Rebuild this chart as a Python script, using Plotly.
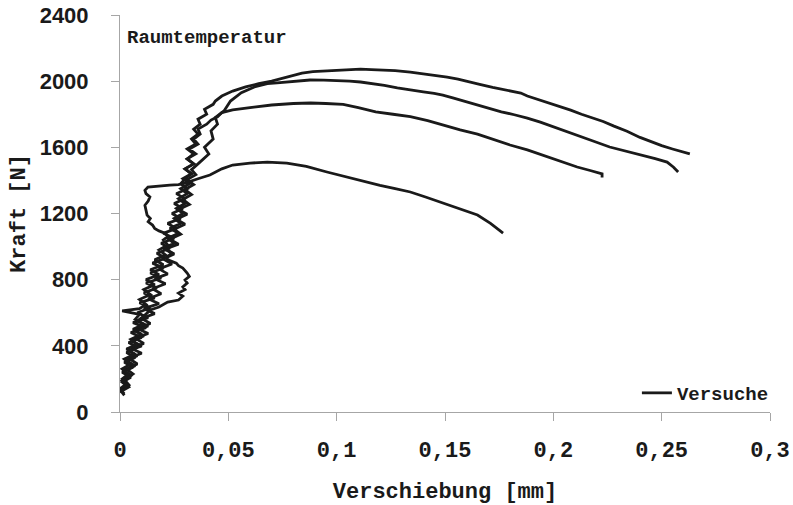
import plotly.graph_objects as go

# ---- data (displacement in mm, force in N) ----
x_ticks = [0, 0.05, 0.1, 0.15, 0.2, 0.25, 0.3]
x_tick_labels = ["0", "0,05", "0,1", "0,15", "0,2", "0,25", "0,3"]
y_ticks = [0, 400, 800, 1200, 1600, 2000, 2400]

x_a = [0.000, 0.004, 0.001, 0.005, 0.001, 0.006, 0.002, 0.007, 0.003, 0.008,
       0.004, 0.010, 0.005, 0.012, 0.006, 0.013, 0.008, 0.014, 0.009, 0.016,
       0.011, 0.017, 0.012, 0.019, 0.014, 0.020, 0.015, 0.021, 0.017, 0.023,
       0.019, 0.025, 0.020, 0.026, 0.022, 0.028, 0.024, 0.029, 0.025, 0.030,
       0.026, 0.031, 0.028,
       0.030, 0.033, 0.030, 0.034, 0.031, 0.034, 0.031, 0.035, 0.033, 0.036,
       0.034, 0.037, 0.036, 0.040, 0.039, 0.043, 0.044, 0.047, 0.052, 0.058,
       0.064, 0.070,
       0.078, 0.084, 0.089, 0.094, 0.100, 0.106, 0.111, 0.116, 0.120, 0.127,
       0.134, 0.140, 0.146, 0.151, 0.156, 0.160, 0.166, 0.172, 0.178, 0.185,
       0.188, 0.194, 0.199, 0.203, 0.208, 0.213, 0.218, 0.223, 0.228, 0.234,
       0.240, 0.246, 0.250, 0.255, 0.259, 0.263]
f_a = [120, 150, 180, 210, 240, 270, 300, 330, 360, 390,
       420, 450, 480, 510, 540, 570, 600, 630, 660, 690,
       720, 750, 780, 810, 840, 870, 900, 930, 960, 990,
       1020, 1050, 1080, 1110, 1140, 1170, 1200, 1230, 1260, 1290,
       1320, 1350, 1380,
       1410, 1440, 1470, 1500, 1530, 1560, 1590, 1620, 1650, 1680,
       1710, 1740, 1770, 1800, 1830, 1860, 1880, 1910, 1940, 1965,
       1985, 2000,
       2030, 2048, 2058, 2062, 2068, 2070, 2073, 2070, 2068, 2064,
       2055, 2045, 2036, 2025, 2012, 1998, 1980, 1962, 1945, 1928,
       1910, 1885, 1862, 1846, 1825, 1800, 1778, 1756, 1728, 1697,
       1660, 1628, 1610, 1590, 1575, 1560]

x_b = [0.002, 0.000, 0.004, 0.002, 0.006, 0.003, 0.008, 0.004, 0.010, 0.005,
       0.011, 0.007, 0.013, 0.008, 0.014, 0.010, 0.016, 0.011, 0.018, 0.013,
       0.019, 0.015, 0.021, 0.016, 0.022, 0.018, 0.024, 0.020, 0.025, 0.021,
       0.027, 0.023, 0.028, 0.025, 0.030, 0.026, 0.031, 0.027, 0.032, 0.029,
       0.033, 0.030, 0.034, 0.031, 0.035, 0.033, 0.036,
       0.038, 0.041, 0.039, 0.043, 0.042, 0.045, 0.044, 0.048, 0.051, 0.056,
       0.062, 0.068, 0.0725,
       0.080, 0.0877, 0.094, 0.100, 0.106, 0.111, 0.117, 0.122, 0.128, 0.134,
       0.140, 0.145, 0.149, 0.154, 0.160, 0.165, 0.170, 0.176, 0.182, 0.188,
       0.194, 0.200, 0.205, 0.211, 0.218, 0.226, 0.233, 0.241, 0.247, 0.2525,
       0.2555, 0.2576]
f_b = [100, 135, 165, 195, 230, 260, 290, 325, 355, 385,
       415, 445, 475, 505, 535, 565, 595, 625, 655, 685,
       715, 745, 775, 805, 835, 865, 895, 925, 955, 985,
       1015, 1045, 1075, 1105, 1135, 1165, 1195, 1225, 1255, 1285,
       1315, 1345, 1375, 1405, 1435, 1465, 1500,
       1523, 1560, 1600, 1650, 1700, 1740, 1780, 1820, 1880, 1930,
       1965, 1985, 1990,
       2000, 2007, 2006, 2005, 2000, 1995, 1985, 1975, 1960, 1946,
       1935, 1926, 1916, 1898, 1875, 1856, 1840, 1815, 1797, 1777,
       1752, 1725, 1700, 1674, 1640, 1602, 1580, 1554, 1532, 1511,
       1480, 1451]

x_c = [0.001, 0.004, 0.001, 0.005, 0.002, 0.007, 0.003, 0.008, 0.004, 0.010,
       0.005, 0.011, 0.007, 0.013, 0.008, 0.011, 0.014,
       0.018, 0.022, 0.027, 0.029, 0.027, 0.030, 0.029, 0.031, 0.030, 0.032,
       0.031, 0.029, 0.027, 0.026, 0.023, 0.021,
       0.024, 0.020, 0.025, 0.022, 0.027, 0.023, 0.028, 0.025, 0.029, 0.026,
       0.030, 0.027, 0.031, 0.028, 0.032, 0.029, 0.033, 0.030, 0.034, 0.031,
       0.035, 0.032, 0.036, 0.034, 0.037, 0.036, 0.040, 0.042, 0.045, 0.047,
       0.052, 0.060, 0.070, 0.080,
       0.088, 0.095, 0.103, 0.110, 0.118, 0.126, 0.134, 0.142, 0.150, 0.157,
       0.165, 0.172, 0.180, 0.188, 0.195, 0.203, 0.211, 0.217, 0.2225, 0.2225]
f_c = [130, 160, 190, 220, 250, 280, 310, 340, 370, 400,
       430, 460, 490, 520, 550, 580, 617,
       635, 665, 677, 700, 719, 740, 756, 780, 798, 820,
       840, 870, 885, 900, 915, 931,
       960, 990, 1020, 1050, 1080, 1110, 1140, 1170, 1200, 1230,
       1260, 1290, 1320, 1350, 1380, 1410, 1440, 1470, 1500, 1530,
       1560, 1590, 1620, 1650, 1680, 1710, 1740, 1765, 1785, 1810,
       1826, 1840, 1856, 1865,
       1868, 1865, 1860, 1840, 1814, 1800, 1785, 1762, 1730, 1705,
       1680, 1650, 1614, 1585, 1554, 1520, 1481, 1460, 1440, 1418]

x_d = [0.002, 0.000, 0.003, 0.001, 0.004, 0.001, 0.005, 0.002, 0.007, 0.003,
       0.008, 0.005, 0.010, 0.006, 0.011, 0.007, 0.009, 0.001, 0.009, 0.012,
       0.009, 0.014, 0.011, 0.016, 0.012, 0.018, 0.014, 0.020, 0.016, 0.021,
       0.018, 0.022, 0.020, 0.022,
       0.021, 0.018, 0.016, 0.015, 0.013, 0.014, 0.0125, 0.012, 0.0115, 0.013,
       0.0138, 0.012, 0.0115, 0.0129, 0.018, 0.023, 0.027, 0.030,
       0.036, 0.0415, 0.047, 0.052, 0.060, 0.068, 0.077, 0.086, 0.0955, 0.103,
       0.111, 0.120, 0.127, 0.134, 0.141, 0.149, 0.157, 0.165, 0.171, 0.1768]
f_d = [110, 140, 170, 200, 230, 260, 290, 320, 350, 380,
       410, 440, 470, 500, 530, 560, 590, 612, 625, 650,
       680, 710, 740, 770, 800, 830, 860, 890, 920, 950,
       980, 1010, 1040, 1060,
       1080, 1095, 1110, 1130, 1150, 1170, 1190, 1220, 1250, 1275,
       1300, 1320, 1340, 1360, 1368, 1372, 1375, 1384,
       1410, 1433, 1470, 1493, 1505, 1510, 1505, 1485, 1451, 1425,
       1402, 1370, 1350, 1330, 1300, 1263, 1230, 1191, 1140, 1082]

curves = [(x_a, f_a), (x_b, f_b), (x_c, f_c), (x_d, f_d)]

MONO = "Liberation Mono"
SANS = "Liberation Sans"
AXIS_GREY = "#a6a6a6"
INK = "#1a1a1a"

fig = go.Figure()
for i, (xs, fs) in enumerate(curves):
    fig.add_trace(go.Scatter(
        x=xs, y=fs, mode="lines", name="Versuche",
        line=dict(color=INK, width=2.8),
        showlegend=(i == 0),
    ))

fig.update_layout(
    width=793, height=505, autosize=False,
    margin=dict(l=120, r=23, t=15, b=93, pad=0),
    paper_bgcolor="white", plot_bgcolor="white",
    xaxis=dict(
        range=[0, 0.3], tickvals=x_ticks, ticktext=x_tick_labels,
        automargin=False,
        showline=True, linecolor=AXIS_GREY, linewidth=1,
        ticks="outside", ticklen=8, tickcolor=AXIS_GREY, tickwidth=1,
        showgrid=False, zeroline=False,
        tickfont=dict(family=MONO, size=22, color=INK, weight="bold"),
        ticklabelstandoff=10,
        title=dict(text="Verschiebung [mm]", standoff=20,
                   font=dict(family=MONO, size=22, color=INK, weight="bold")),
    ),
    yaxis=dict(
        range=[0, 2400], tickvals=y_ticks,
        automargin=False,
        showline=True, linecolor=AXIS_GREY, linewidth=1,
        ticks="outside", ticklen=8, tickcolor=AXIS_GREY, tickwidth=1,
        showgrid=False, zeroline=False,
        tickfont=dict(family=SANS, size=22, color=INK, weight="bold"),
        ticklabelstandoff=18,
        title=dict(text="Kraft [N]", standoff=7,
                   font=dict(family=MONO, size=22, color=INK, weight="bold")),
    ),
    legend=dict(
        x=1.006, xanchor="right", y=0.0, yanchor="bottom",
        bgcolor="rgba(0,0,0,0)", itemwidth=30,
        font=dict(family=MONO, size=19, color=INK, weight="bold"),
    ),
    annotations=[dict(
        text="Raumtemperatur", xref="paper", yref="paper",
        x=0.008, y=0.943, xanchor="left", yanchor="middle", showarrow=False,
        font=dict(family=MONO, size=19, color=INK, weight="bold"),
    )],
)

fig.write_html("out.html")
